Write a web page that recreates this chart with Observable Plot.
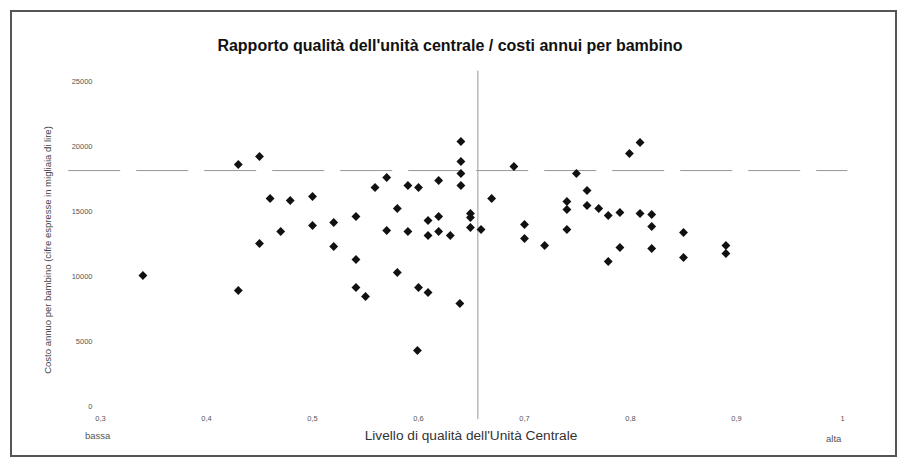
<!DOCTYPE html>
<html>
<head>
<meta charset="utf-8">
<script src="https://cdn.jsdelivr.net/npm/d3@7"></script>
<script src="https://cdn.jsdelivr.net/npm/@observablehq/plot@0.6"></script>
<style>
  body { margin: 0; background: #fff; font-family: "Liberation Sans", Arial, sans-serif; }
  #wrap { position: relative; width: 906px; height: 466px; overflow: hidden; }
  #border { position: absolute; left: 10px; top: 10px; width: 883px; height: 443px; border: 2px solid #555; }
  .t { position: absolute; white-space: nowrap; color: #222; }
  #title { left: 0; width: 900px; top: 37px; text-align: center; font-weight: bold; font-size: 16px; color: #111; }
  #xlab { left: 0; width: 942px; top: 428px; text-align: center; font-size: 13.7px; color: #333; }
  #ylab { left: 47px; top: 250px; font-size: 9.5px; color: #444; transform: translate(-50%, -50%) rotate(-90deg); }
  #bassa { left: 85px; top: 430px; font-size: 9.5px; color: #555; }
  #alta { left: 826px; top: 433px; font-size: 9.5px; color: #555; }
  #chart { position: absolute; left: 0; top: 0; }
</style>
</head>
<body>
<div id="wrap">
  <div id="chart"></div>
  <div id="border"></div>
  <div class="t" id="title">Rapporto qualità dell'unità centrale / costi annui per bambino</div>
  <div class="t" id="ylab">Costo annuo per bambino (cifre espresse in migliaia di lire)</div>
  <div class="t" id="xlab">Livello di qualità dell'Unità Centrale</div>
  <div class="t" id="bassa">bassa</div>
  <div class="t" id="alta">alta</div>
</div>
<script>
// Quality level (x) of each centre
const quality = [
  0.340, 0.430, 0.430, 0.450, 0.450, 0.460, 0.470, 0.479, 0.500, 0.500,
  0.520, 0.520, 0.541, 0.541, 0.541, 0.550, 0.559, 0.570, 0.570, 0.580,
  0.580, 0.590, 0.590, 0.600, 0.600, 0.599, 0.609, 0.609, 0.609, 0.619,
  0.619, 0.619, 0.630, 0.640, 0.640, 0.640, 0.640, 0.639, 0.649, 0.649,
  0.649, 0.659, 0.669, 0.690, 0.700, 0.700, 0.719, 0.740, 0.740, 0.740,
  0.749, 0.759, 0.759, 0.770, 0.779, 0.790, 0.779, 0.790, 0.799, 0.809,
  0.809, 0.820, 0.820, 0.820, 0.850, 0.850, 0.890, 0.890
];
// Annual cost per child (thousands of lire)
const cost = [
  10080, 8920, 18620, 19230, 12540, 16000, 13460, 15850, 16150, 13920,
  14150, 12310, 14620, 11310, 9150, 8460, 16850, 17620, 13540, 15230,
  10310, 17000, 13460, 16850, 9150, 4310, 14310, 13150, 8770, 17380,
  14620, 13460, 13150, 20380, 18850, 17920, 17000, 7920, 14850, 14540,
  13770, 13620, 16000, 18460, 14000, 12920, 12380, 15770, 15150, 13620,
  17920, 16620, 15460, 15230, 14690, 14920, 11150, 12230, 19460, 20310,
  14850, 14770, 13850, 12150, 13380, 11460, 12380, 11770
];
const xTicks = [0.3, 0.4, 0.5, 0.6, 0.7, 0.8, 0.9, 1];
const yTicks = [0, 5000, 10000, 15000, 20000, 25000];
const meanQuality = [0.656];
const meanCost = [18150];

const data = quality.map((q, i) => ({q, c: cost[i]}));
const fmtX = d => String(d).replace(".", ",");
const fmtY = d => String(d);

const chart = Plot.plot({
  width: 906,
  height: 466,
  marginLeft: 100,
  marginRight: 64,
  marginTop: 81,
  marginBottom: 60,
  style: {background: "transparent", fontFamily: "'Liberation Sans', Arial, sans-serif"},
  x: {domain: [0.3, 1.0], label: null},
  y: {domain: [0, 25000], label: null},
  marks: [
    Plot.axisX({ticks: xTicks, tickSize: 0, tickPadding: 9, fontSize: 7.5, fill: "#555",
      tickFormat: fmtX, label: null}),
    Plot.axisY({ticks: yTicks, tickSize: 0, tickPadding: 8, fontSize: 7.5, fill: "#555",
      tickFormat: fmtY, label: null}),
    Plot.ruleY(meanCost, {x1: 0.27, x2: 1.005, stroke: "#999", strokeWidth: 1, strokeDasharray: "52,16"}),
    Plot.ruleX(meanQuality, {y1: 25800, y2: -1000, stroke: "#999", strokeWidth: 1}),
    Plot.dot(data, {x: "q", y: "c", symbol: "diamond2", r: 4, fill: "#111", stroke: "none"})
  ]
});
document.getElementById("chart").appendChild(chart);
</script>
</body>
</html>
